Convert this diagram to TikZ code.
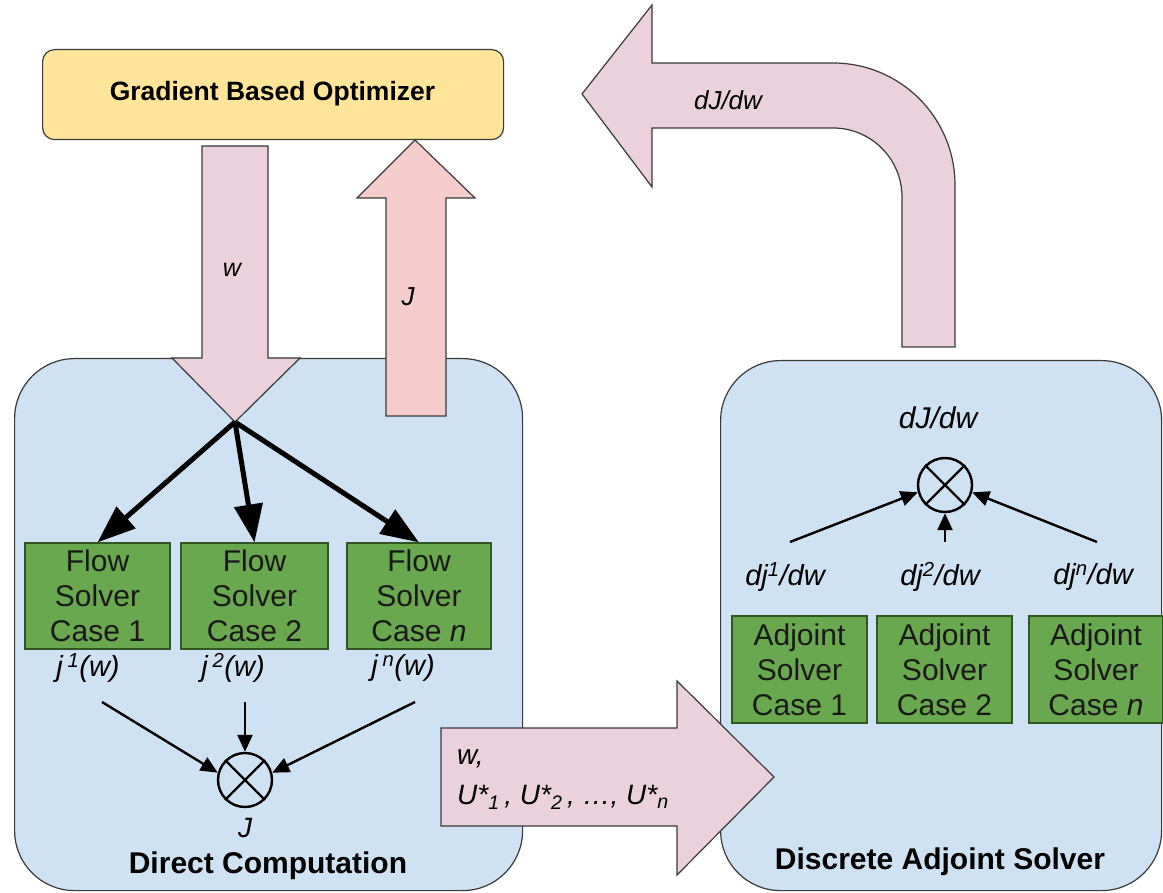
\documentclass[tikz,border=0pt]{standalone}
\usepackage{fontspec}
\setmainfont{Liberation Sans}
\usetikzlibrary{arrows.meta}
\definecolor{optyellow}{HTML}{FFE599}
\definecolor{arrpink}{HTML}{EAD1DC}
\definecolor{arrred}{HTML}{F4CCCC}
\definecolor{panelblue}{HTML}{CFE2F3}
\definecolor{boxgreen}{HTML}{6AA84F}
\definecolor{boxedge}{HTML}{2F5520}
\definecolor{edgegray}{HTML}{3A3A3A}
\newcommand\fsz[2]{\fontsize{#1}{#2}\selectfont}
\begin{document}
\begin{tikzpicture}[x=1pt,y=-1pt,
  panel/.style={draw=edgegray, line width=1.2pt, fill=panelblue, rounded corners=60pt, inner sep=0pt, anchor=north west},
  optbox/.style={draw=edgegray, line width=1.2pt, fill=optyellow, rounded corners=12pt, inner sep=0pt, anchor=north west},
  blockarrow/.style={draw=edgegray, line width=1.2pt, line join=miter},
  greenbox/.style={draw=boxedge, line width=1.2pt, fill=boxgreen, inner sep=0pt, align=center, font=\fsz{30}{35}, text=black!90},
  thickarr/.style={line width=5pt, -{Triangle[length=38pt,width=28pt]}},
  thinarr/.style={line width=2.4pt, -{Triangle[length=17pt,width=15pt]}},
  sumnode/.style={circle, draw=black, line width=2.4pt, minimum size=54pt, inner sep=0pt},
  lbl/.style={font=\fsz{29}{34}\itshape, inner sep=0pt},
  bigtitle/.style={font=\fsz{30}{36}\bfseries, inner sep=0pt}
]
\useasboundingbox (0,0) rectangle (1163,893);

% panels
\node[panel, minimum width=508pt, minimum height=532pt] (left) at (14,358) {};
\node[panel, minimum width=441pt, minimum height=530pt] (right) at (720,360) {};
\node[bigtitle] (dctitle) at (268,866) {Direct Computation};
\node[bigtitle] (dastitle) at (940,862) {Discrete Adjoint Solver};

% optimizer
\node[optbox, minimum width=461pt, minimum height=90pt] (opt) at (42,49) {};
\node[font=\fsz{26.5}{30}\bfseries, inner sep=0pt] (opttext) at (272.5,94) {Gradient Based Optimizer};

% w arrow (down)
\coordinate (split) at (235,422);
\draw[blockarrow, fill=arrpink] (202,146) -- (268,146) -- (268,358) -- (300,358) -- (split) -- (172,358) -- (202,358) -- cycle;
\node[font=\fsz{25}{30}\itshape, inner sep=0pt] (wlabel) at (232,270) {w};

% J arrow (up)
\draw[blockarrow, fill=arrred] (386,416) -- (386,198) -- (357,198) -- (415,140) -- (475,198) -- (446,198) -- (446,416) -- cycle;
\node[font=\fsz{26}{30}\itshape, inner sep=0pt] (Jlabel) at (408,297) {J};

% dJ/dw bent arrow
\draw[blockarrow, fill=arrpink] (902,347) -- (955,347) -- (955,185)
  .. controls (955,117.6) and (900.4,63) .. (833,63) -- (652,63) -- (652,5) -- (582,94)
  -- (652,187) -- (652,128) -- (833,128)
  .. controls (871.1,128) and (902,158.9) .. (902,197) -- cycle;
\node[font=\fsz{26}{30}\itshape, inner sep=0pt] (dJtop) at (728,100) {dJ/dw};

% flow solver boxes
\node[greenbox, minimum width=145pt, minimum height=106pt] (f1) at (97.5,596) {Flow\\Solver\\Case 1};
\node[greenbox, minimum width=147pt, minimum height=106pt] (f2) at (254.5,596) {Flow\\Solver\\Case 2};
\node[greenbox, minimum width=144pt, minimum height=106pt] (f3) at (419,596) {Flow\\Solver\\Case \textit{n}};

\draw[thickarr] (split) -- (f1.north);
\draw[thickarr] (split) -- (f2.north);
\draw[thickarr] (split) -- (f3.north);

% j labels
\node[lbl] (j1) at (88,668) {j\,\textsuperscript{1}(w)};
\node[lbl] (j2) at (233,668) {j\,\textsuperscript{2}(w)};
\node[lbl] (j3) at (403,668) {j\,\textsuperscript{n}(w)};

\node[sumnode] (sumL) at (245,780) {};
\draw[line width=2.4pt] (sumL.45) -- (sumL.225) (sumL.135) -- (sumL.315);
\node[font=\fsz{28}{32}\itshape, inner sep=0pt] (Jout) at (245,828) {J};

\coordinate (s1) at (102,702);
\coordinate (s2) at (245,702);
\coordinate (s3) at (415,702);
\draw[thinarr] (s1) -- (sumL.165);
\draw[thinarr] (s2) -- (sumL.north);
\draw[thinarr] (s3) -- (sumL.15);

% adjoint boxes
\node[greenbox, minimum width=135pt, minimum height=107pt] (a1) at (799.5,669.5) {Adjoint\\Solver\\Case 1};
\node[greenbox, minimum width=135pt, minimum height=107pt] (a2) at (944.5,669.5) {Adjoint\\Solver\\Case 2};
\node[greenbox, minimum width=134pt, minimum height=107pt] (a3) at (1096,669.5) {Adjoint\\Solver\\Case \textit{n}};

% right sum
\node[font=\fsz{30}{34}\itshape, inner sep=0pt] (dJright) at (938,418) {dJ/dw};
\node[sumnode] (sumR) at (945,485) {};
\draw[line width=2.4pt] (sumR.45) -- (sumR.225) (sumR.135) -- (sumR.315);

\node[lbl] (d1) at (785,577) {dj\textsuperscript{1}/dw};
\node[lbl] (d2) at (940,577) {dj\textsuperscript{2}/dw};
\node[lbl] (d3) at (1093,577) {dj\textsuperscript{n}/dw};

\coordinate (r1) at (790,542);
\coordinate (r2) at (945,542);
\coordinate (r3) at (1097,542);
\draw[thinarr] (r1) -- (sumR.195);
\draw[thinarr] (r2) -- (sumR.south);
\draw[thinarr] (r3) -- (sumR.345);

% w, U* arrow
\draw[blockarrow, fill=arrpink] (441,728) -- (677,728) -- (677,681) -- (774,777) -- (677,875) -- (677,826) -- (441,826) -- cycle;
\node[anchor=west, align=left, font=\fsz{28}{40}\itshape, inner sep=0pt] (ulabel) at (457,780)
  {w,\\U*\textsubscript{1}\,, U*\textsubscript{2}\,, \dots, U*\textsubscript{n}};
\end{tikzpicture}
\end{document}
